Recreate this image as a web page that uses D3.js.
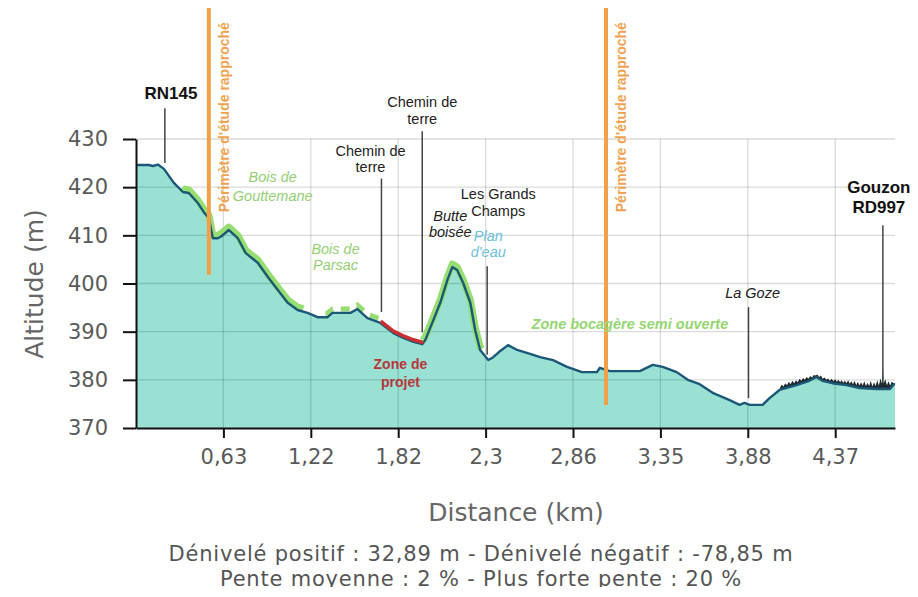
<!DOCTYPE html>
<html><head><meta charset="utf-8">
<script src="https://cdn.jsdelivr.net/npm/d3@7"></script>
<style>body{margin:0;background:#fff}svg{display:block}</style>
</head><body>
<svg id="c" width="918" height="597"></svg>
<script>
// ---------- DATA ----------
const distances = [0, 0.093, 0.122, 0.158, 0.201, 0.273, 0.338, 0.381, 0.446, 0.489, 0.525, 0.554, 0.590, 0.611, 0.667, 0.727, 0.781, 0.862, 0.929, 0.996, 1.064, 1.131, 1.198, 1.267, 1.335, 1.369, 1.492, 1.540, 1.609, 1.698, 1.787, 1.848, 1.904, 1.952, 1.969, 2.013, 2.051, 2.090, 2.117, 2.144, 2.177, 2.216, 2.243, 2.270, 2.317, 2.349, 2.394, 2.444, 2.502, 2.585, 2.649, 2.732, 2.822, 2.910, 2.994, 3.011, 3.067, 3.235, 3.307, 3.364, 3.449, 3.516, 3.588, 3.667, 3.770, 3.830, 3.860, 3.890, 3.963, 4.002, 4.058, 4.153, 4.225, 4.265, 4.298, 4.354, 4.440, 4.521, 4.627, 4.709, 4.733, 4.74];
const altitudes = [424.6, 424.6, 424.4, 424.7, 423.8, 420.9, 419.0, 418.8, 416.7, 414.8, 413.6, 409.4, 409.4, 409.7, 411.1, 409.4, 406.3, 404.3, 401.4, 398.7, 396.0, 394.5, 393.9, 393.0, 393.0, 393.9, 393.9, 394.7, 392.8, 391.8, 389.7, 388.7, 387.9, 387.4, 388.3, 392.4, 396.0, 400.7, 403.4, 402.8, 400.1, 396.0, 390.3, 386.2, 384.1, 384.7, 386.0, 387.2, 386.2, 385.4, 384.7, 384.1, 382.7, 381.6, 381.6, 382.5, 381.8, 381.8, 383.1, 382.7, 381.6, 380.0, 379.1, 377.3, 375.8, 374.8, 375.2, 374.8, 374.8, 376.2, 377.9, 378.9, 379.8, 380.6, 379.8, 379.3, 378.9, 378.3, 378.1, 378.1, 379.1, 379.0];

// above-ground obstacles (vegetation / buildings) near Gouzon
const surfaceDist = [4.06,4.07,4.08,4.09,4.10,4.11,4.12,4.13,4.14,4.15,4.16,4.17,4.18,4.19,4.20,4.21,4.22,4.23,4.24,4.25,4.26,4.27,4.28,4.29,4.30,4.31,4.32,4.33,4.34,4.35,4.36,4.37,4.38,4.39,4.40,4.41,4.42,4.43,4.44,4.45,4.46,4.47,4.48,4.49,4.50,4.51,4.52,4.53,4.54,4.55,4.56,4.57,4.58,4.59,4.60,4.61,4.62,4.63,4.64,4.65,4.66,4.665,4.67,4.68,4.69,4.70,4.71,4.72,4.73];
const surfaceAlt = [378.3,379.0,378.6,379.3,378.9,379.6,379.1,379.8,379.3,379.9,
  379.5,380.2,379.8,380.4,380.0,380.6,380.2,380.8,380.5,381.0,
  380.9,381.1,380.6,380.9,380.2,380.5,380.0,380.3,379.8,380.2,
  379.7,380.1,379.6,380.0,379.5,379.9,379.4,379.8,379.3,379.9,
  379.2,379.7,379.1,379.8,378.9,379.6,378.8,379.5,378.8,379.7,
  378.7,379.4,378.7,379.8,378.6,379.5,378.7,379.9,378.8,380.3,
  379.2,382.7,379.3,380.1,378.9,379.7,378.8,379.6,379.4];

const xTickValues = [0.63, 1.22, 1.82, 2.3, 2.86, 3.35, 3.88, 4.37];
const yTickValues = [370, 380, 390, 400, 410, 420, 430];
const maxDistance = 4.74;

const woodlandSolid = [[0.33, 1.17], [1.955, 2.28]];
const woodlandDashed = [[1.32, 1.70]];
const projectZone = [[1.70, 1.955]];
const studyPerimeter = [0.525, 3.045];

const annotations = [
  {lines:["RN145"], d:0.252, alt:438.3, cls:"b", leader:[0.208, 436.4, 425.0]},
  {lines:["Chemin de","terre"], d:1.63, alt:426.5, lh:16.3, cls:"n", leader:[1.705, 421.8, 394.1]},
  {lines:["Chemin de","terre"], d:1.952, alt:436.6, lh:16.3, cls:"n", leader:[1.952, 431.6, 389.9]},
  {lines:["Les Grands","Champs"], d:2.381, alt:417.5, lh:16.3, cls:"n"},
  {lines:["Butte","boisée"], d:2.106, alt:413.0, lh:16.3, cls:"i"},
  {lines:["Plan","d'eau"], d:2.317, alt:408.9, lh:16.3, cls:"blue", leader:[2.31, 403.6, 385.2]},
  {lines:["Bois de","Gouttemane"], d:0.963, alt:421.1, lh:19, cls:"green"},
  {lines:["Bois de","Parsac"], d:1.39, alt:406.1, lh:16.3, cls:"green"},
  {lines:["Zone de","projet"], d:1.832, alt:382.3, lh:18, cls:"red"},
  {lines:["Zone bocagère semi ouverte"], d:3.179, alt:390.6, cls:"greenb"},
  {lines:["La Goze"], d:3.907, alt:397.0, cls:"i", leader:[3.884, 395.1, 376.2]},
  {lines:["Gouzon","RD997"], d:4.64, alt:418.8, lh:20, cls:"b", leader:[4.665, 412.1, 380.0]}
];

const statsLines = [
  "Dénivelé positif : 32,89 m - Dénivelé négatif : -78,85 m",
  "Pente moyenne : 2 % - Plus forte pente : 20 %"
];

// ---------- LAYOUT ----------
const x0 = 136, step = 87.4, xEnd = 895;
const x = d3.scaleLinear()
  .domain([0, ...xTickValues, maxDistance])
  .range([x0, ...xTickValues.map((_, i) => x0 + (i + 1) * step), xEnd]);
const y = d3.scaleLinear().domain([370, 430]).range([428, 139]);

const svg = d3.select("#c");
svg.append("rect").attr("width", 918).attr("height", 597).attr("fill", "#fff");

const profile = distances.map((d, i) => ({d, a: altitudes[i]}));
const surface = surfaceDist.map((d, i) => ({d, a: surfaceAlt[i]}));
const bis = d3.bisector(p => p.d).right;
const altAt = d => {
  const i = bis(profile, d);
  if (i <= 0) return profile[0].a;
  if (i >= profile.length) return profile[profile.length - 1].a;
  const p0 = profile[i - 1], p1 = profile[i];
  return p0.a + (p1.a - p0.a) * (d - p0.d) / (p1.d - p0.d);
};
const segment = ([a, b]) => [{d: a, a: altAt(a)}, ...profile.filter(p => p.d > a && p.d < b), {d: b, a: altAt(b)}];

const line = d3.line().x(p => x(p.d)).y(p => y(p.a));
const area = d3.area().x(p => x(p.d)).y0(y(370)).y1(p => y(p.a));

// obstacles (drawn first, profile fill covers lower part)
svg.append("path").datum(surface).attr("d", area).attr("fill", "#1f2b30");

// profile fill
svg.append("path").datum(profile).attr("d", area).attr("fill", "#98e1d3");

// grid
const grid = svg.append("g").attr("stroke", "#000").attr("stroke-opacity", 0.14).attr("stroke-width", 1.3);
grid.selectAll(".h").data(yTickValues.slice(1)).join("line")
  .attr("x1", x0).attr("x2", xEnd).attr("y1", d => y(d)).attr("y2", d => y(d));
grid.selectAll(".v").data(xTickValues).join("line")
  .attr("x1", d => x(d)).attr("x2", d => x(d)).attr("y1", y(430)).attr("y2", y(370));

// woodland highlights
woodlandSolid.forEach(r => {
  svg.append("path").datum(segment(r)).attr("d", line).attr("fill", "none")
    .attr("stroke", "#96de72").attr("stroke-width", 7).attr("stroke-linejoin", "round")
    .attr("transform", "translate(0,-3)");
});
woodlandDashed.forEach(r => {
  svg.append("path").datum(segment(r)).attr("d", line).attr("fill", "none")
    .attr("stroke", "#96de72").attr("stroke-width", 5).attr("stroke-dasharray", "9,8")
    .attr("transform", "translate(0,-4)");
});

// profile line
svg.append("path").datum(profile).attr("d", line).attr("fill", "none")
  .attr("stroke", "#1b5877").attr("stroke-width", 2.4).attr("stroke-linejoin", "round");

// project zone
projectZone.forEach(r => {
  svg.append("path").datum(segment(r)).attr("d", line).attr("fill", "none")
    .attr("stroke", "#cc2f2f").attr("stroke-width", 3.5).attr("transform", "translate(0,-2)");
});

// axes
const ax = svg.append("g").attr("transform", `translate(${x0},0)`)
  .call(d3.axisLeft(y).tickValues(yTickValues).tickSize(13).tickSizeOuter(0).tickPadding(15));
const bx = svg.append("g").attr("transform", `translate(0,${y(370)})`)
  .call(d3.axisBottom(x).tickValues(xTickValues).tickSize(10).tickSizeOuter(0).tickPadding(11)
    .tickFormat(d => String(d).replace(".", ",")));
[ax, bx].forEach(g => {
  g.select(".domain").attr("stroke", "#111").attr("stroke-width", 2);
  g.selectAll(".tick line").attr("stroke", "#111").attr("stroke-width", 2);
  g.selectAll(".tick text").attr("font-family", "DejaVu Sans").attr("font-size", 21).attr("fill", "#5a5a5a");
});

// axis titles
svg.append("text").attr("transform", "translate(34,284) rotate(-90)").attr("text-anchor", "middle")
  .attr("dy", "0.35em").attr("font-family", "DejaVu Sans").attr("font-size", 25).attr("fill", "#666")
  .text("Altitude (m)");
svg.append("text").attr("x", 516).attr("y", 521).attr("text-anchor", "middle")
  .attr("font-family", "DejaVu Sans").attr("font-size", 25).attr("fill", "#666").text("Distance (km)");

// stats
statsLines.forEach((t, i) => {
  svg.append("text").attr("x", 481).attr("y", 561 + i * 24.5).attr("text-anchor", "middle")
    .attr("font-family", "DejaVu Sans").attr("font-size", 21).attr("letter-spacing", 0.8)
    .attr("fill", "#555").text(t);
});
svg.append("rect").attr("x", 0).attr("y", 587).attr("width", 918).attr("height", 10).attr("fill", "#fff");

// leader lines
annotations.filter(a => a.leader).forEach(a => {
  const [d, t, b] = a.leader;
  svg.append("line").attr("x1", x(d)).attr("x2", x(d)).attr("y1", y(t)).attr("y2", y(b))
    .attr("stroke", "#444").attr("stroke-width", 1.5);
});

// study perimeter lines
studyPerimeter.forEach((d, i) => {
  svg.append("line").attr("x1", x(d)).attr("x2", x(d)).attr("y1", y(457.2)).attr("y2", y(i === 0 ? 401.8 : 374.8))
    .attr("stroke", "#f0a048").attr("stroke-width", 4);
  svg.append("text").attr("transform", `translate(${x(d) + 20},${y(414.8)}) rotate(-90)`)
    .attr("font-family", "Liberation Sans, Arial, sans-serif").attr("font-size", 14).attr("font-weight", "bold")
    .attr("fill", "#efa350").text("Périmètre d'étude rapproché");
});

// annotation texts
const styles = {
  b: {fill: "#111", weight: "bold", style: "normal", size: 17},
  n: {fill: "#222", weight: "normal", style: "normal", size: 14.5},
  i: {fill: "#222", weight: "normal", style: "italic", size: 14.5},
  blue: {fill: "#6cc1d9", weight: "normal", style: "italic", size: 14.5},
  green: {fill: "#94cf74", weight: "normal", style: "italic", size: 14.5},
  greenb: {fill: "#94d672", weight: "bold", style: "italic", size: 14.5},
  red: {fill: "#b8353a", weight: "bold", style: "normal", size: 14}
};
annotations.forEach(a => {
  const s = styles[a.cls];
  const t = svg.append("text").attr("text-anchor", "middle")
    .attr("font-family", "Liberation Sans, Arial, sans-serif").attr("font-size", s.size)
    .attr("font-weight", s.weight).attr("font-style", s.style).attr("fill", s.fill);
  a.lines.forEach((l, i) => {
    t.append("tspan").attr("x", x(a.d)).attr("y", y(a.alt) + i * (a.lh || 0)).text(l);
  });
});
</script>
</body></html>
